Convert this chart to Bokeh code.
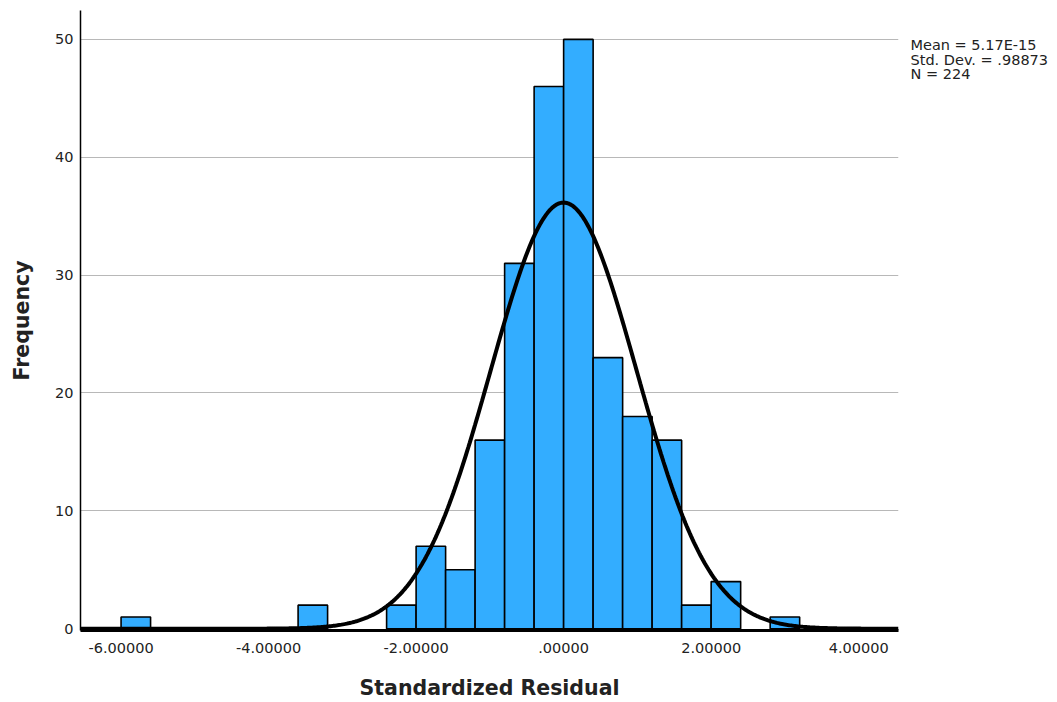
import numpy as np
from bokeh.plotting import figure
from bokeh.models import Range1d, FixedTicker, LinearAxis, ColumnDataSource
from bokeh.embed import file_html
from bokeh.resources import INLINE

# Data
bin_left = [-6.0, -3.6, -2.4, -2.0, -1.6, -1.2, -0.8, -0.4, 0.0, 0.4, 0.8, 1.2, 1.6, 2.0, 2.8]
counts = [1, 2, 2, 7, 5, 16, 31, 46, 50, 23, 18, 16, 2, 4, 1]
bin_width = 0.4
stat_mean = 5.17e-15
stat_sd = 0.98873
stat_n = 224
x_ticks = [-6, -4, -2, 0, 2, 4]
x_tick_labels = ["-6.00000", "-4.00000", "-2.00000", ".00000", "2.00000", "4.00000"]
y_ticks = [0, 10, 20, 30, 40, 50]
stats_text = ["Mean = 5.17E-15", "Std. Dev. = .98873", "N = 224"]

FONT = "DejaVu Sans"

x0, x1 = -6.55, 4.54
p = figure(width=1057, height=702, output_backend="svg", toolbar_location=None,
           x_range=Range1d(x0, x1), y_range=Range1d(-0.15, 52.45),
           min_border_left=80, min_border_right=159, min_border_top=10, min_border_bottom=72)
p.outline_line_color = None
p.background_fill_color = "white"
p.border_fill_color = "white"

src = ColumnDataSource(dict(
    left=bin_left,
    right=[b + bin_width for b in bin_left],
    top=counts,
    bottom=[0] * len(counts),
))
p.quad(left="left", right="right", top="top", bottom="bottom", source=src,
       fill_color="#33adff", line_color="black", line_width=1.6)

# Fitted normal curve (N * bin width * normal pdf)
xs = np.linspace(x0, x1, 600)
ys = stat_n * bin_width * np.exp(-0.5 * ((xs - stat_mean) / stat_sd) ** 2) / (stat_sd * np.sqrt(2 * np.pi))
p.line(xs, ys, line_color="black", line_width=4)

# Grid
p.xgrid.visible = False
p.ygrid.ticker = FixedTicker(ticks=y_ticks[1:])
p.ygrid.grid_line_color = "#b8b8b8"
p.ygrid.grid_line_width = 1
p.ygrid.level = "underlay"

# Axes
p.xaxis.ticker = FixedTicker(ticks=x_ticks)
p.xaxis.major_label_overrides = {t: l for t, l in zip(x_ticks, x_tick_labels)}
p.yaxis.ticker = FixedTicker(ticks=y_ticks)
for ax in (p.xaxis[0], p.yaxis[0]):
    ax.major_tick_line_color = None
    ax.minor_tick_line_color = None
    ax.major_tick_out = 0
    ax.major_tick_in = 0
    ax.minor_tick_out = 0
    ax.minor_tick_in = 0
    ax.major_label_text_font = FONT
    ax.major_label_text_font_size = "14.5px"
    ax.major_label_text_color = "#222222"
    ax.axis_label_text_font = FONT
    ax.axis_label_text_font_style = "bold"
    ax.axis_label_text_font_size = "20.5px"
    ax.axis_label_text_color = "#222222"
    ax.axis_line_color = "black"
p.xaxis.axis_line_width = 3
p.yaxis.axis_line_width = 1.5
p.xaxis.major_label_standoff = 12
p.yaxis.major_label_standoff = 7
p.xaxis.axis_label = "Standardized Residual"
p.yaxis.axis_label = "Frequency"
p.xaxis.axis_label_standoff = 20
p.yaxis.axis_label_standoff = 18

# Stats text at top right, drawn as labels of an unlined right-hand axis
stat_y = [49.5, 48.27, 47.04]
stats_axis = LinearAxis(ticker=FixedTicker(ticks=stat_y),
                        major_label_overrides={v: t for v, t in zip(stat_y, stats_text)},
                        axis_line_color=None, major_tick_line_color=None,
                        minor_tick_line_color=None, major_tick_in=0, major_tick_out=0,
                        minor_tick_in=0, minor_tick_out=0,
                        major_label_standoff=12,
                        major_label_text_font=FONT, major_label_text_font_size="14.5px",
                        major_label_text_color="#222222")
p.add_layout(stats_axis, "right")

open("out.html", "w").write(file_html(p, INLINE))
